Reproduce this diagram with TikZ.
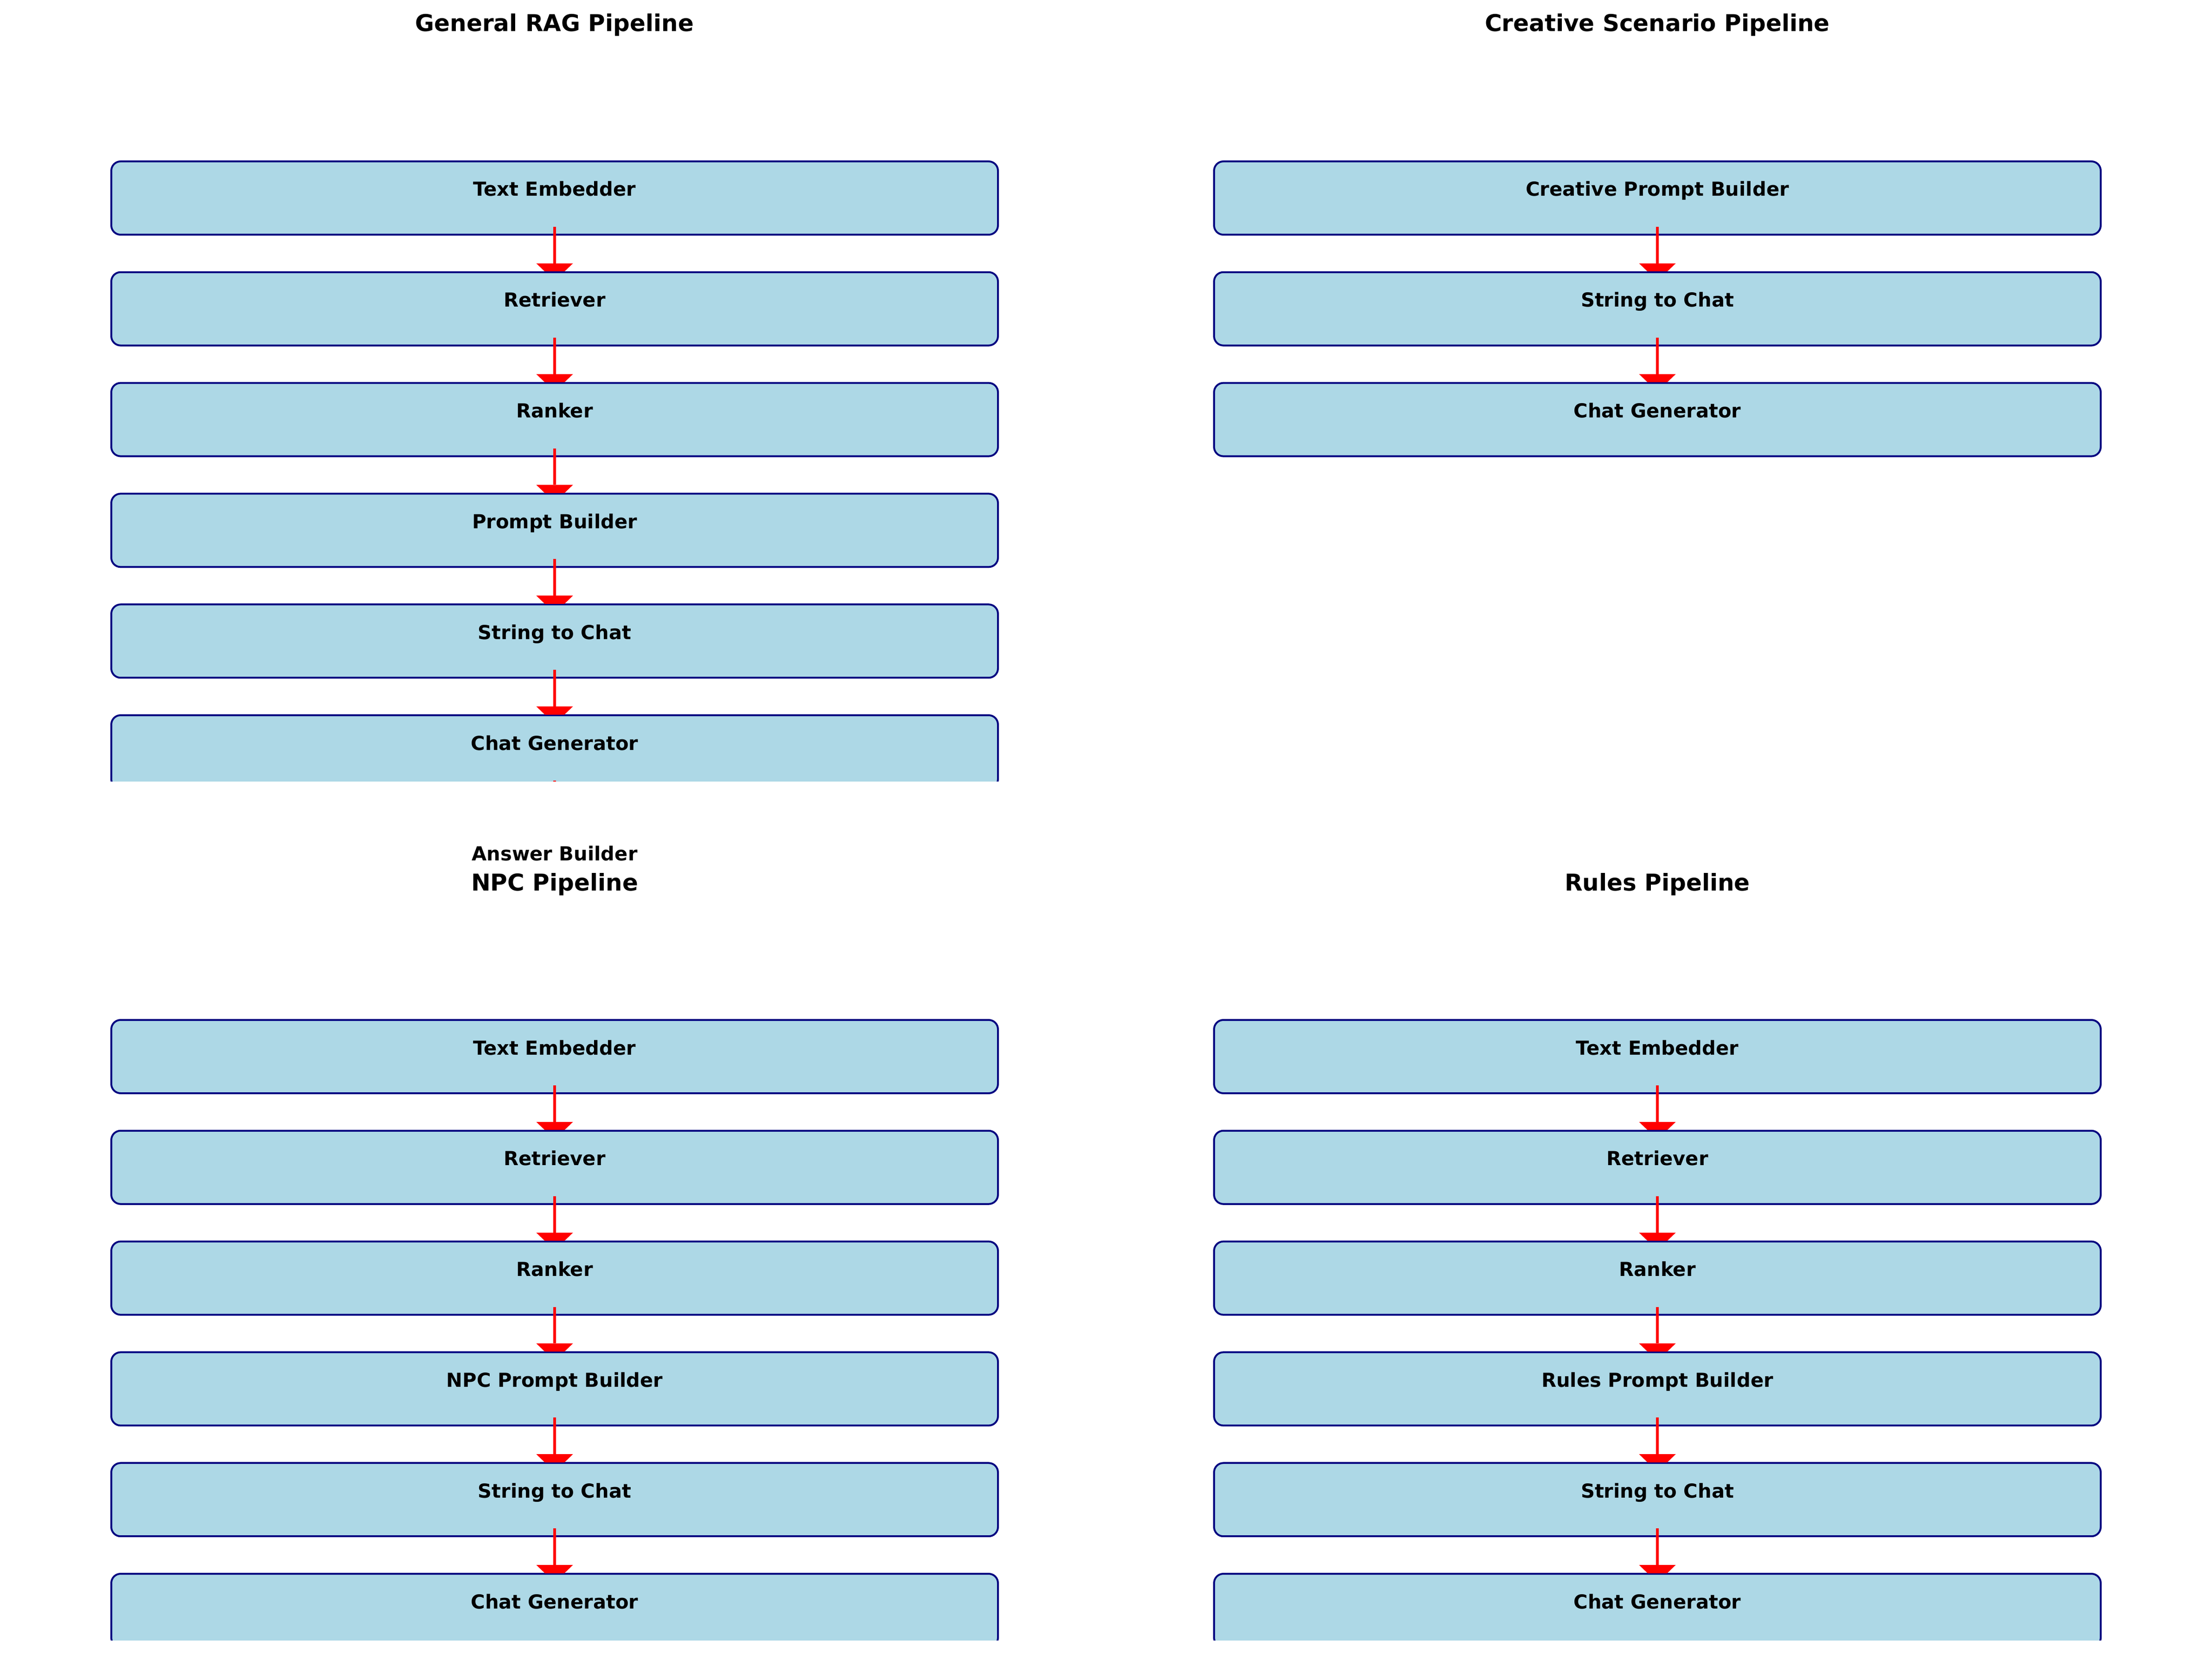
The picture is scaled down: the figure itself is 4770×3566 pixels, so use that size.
\documentclass[tikz,border=0pt]{standalone}
\usepackage{fontspec}
\setmainfont{DejaVu Sans}
\usetikzlibrary{arrows.meta}
\definecolor{boxfill}{HTML}{ADD8E6}
\definecolor{boxline}{HTML}{000080}
\definecolor{arrowred}{HTML}{FF0000}
\newcommand\flowarrow[2]{%
  \begin{scope}
    \clip ([xshift=-20pt,yshift=8pt]#1.south) rectangle ([xshift=20pt,yshift=0.48pt]#2.north);
    \draw[flow] ([yshift=4.08pt]#1.south) -- ([yshift=-4.56pt]#2.north);
  \end{scope}}
\begin{document}
\begin{tikzpicture}[x=0.24pt,y=-0.24pt,
  box/.style={draw=boxline, fill=boxfill, line width=0.96pt, rounded corners=4.8pt,
    minimum width=458.88pt, minimum height=37.92pt, inner sep=0pt, outer sep=0pt},
  lbl/.style={anchor=base, inner sep=0pt, font=\fontsize{10}{12}\selectfont\bfseries},
  ttl/.style={anchor=base, inner sep=0pt, font=\fontsize{12}{14}\selectfont\bfseries},
  flow/.style={draw=arrowred, line width=1.44pt,
    -{Triangle[width=18.96pt,length=9.12pt,line width=0pt]}}]
\useasboundingbox (0,0) rectangle (4770,3566);
\fill[white] (0,0) rectangle (4770,3566);

% ---------- top row ----------
\begin{scope}
  \clip (0,0) rectangle (4770,1684);
  % General RAG Pipeline
  \node[box] (g1) at (1196,427) {};
  \node[box] (g2) at (1196,665.8) {};
  \node[box] (g3) at (1196,904.6) {};
  \node[box] (g4) at (1196,1143.4) {};
  \node[box] (g5) at (1196,1382.2) {};
  \node[box] (g6) at (1196,1621) {};
  \node[box] (g7) at (1196,1859.8) {};
  \flowarrow{g1}{g2}
  \flowarrow{g2}{g3}
  \flowarrow{g3}{g4}
  \flowarrow{g4}{g5}
  \flowarrow{g5}{g6}
  \flowarrow{g6}{g7}
  % Creative Scenario Pipeline
  \node[box] (c1) at (3574,427) {};
  \node[box] (c2) at (3574,665.8) {};
  \node[box] (c3) at (3574,904.6) {};
  \flowarrow{c1}{c2}
  \flowarrow{c2}{c3}
\end{scope}

\node[ttl] (tg) at (1196,68) {General RAG Pipeline};
\node[ttl] (tc) at (3574,68) {Creative Scenario Pipeline};
\node[lbl] at ([yshift=-18pt]g1.north) {Text Embedder};
\node[lbl] at ([yshift=-18pt]g2.north) {Retriever};
\node[lbl] at ([yshift=-18pt]g3.north) {Ranker};
\node[lbl] at ([yshift=-18pt]g4.north) {Prompt Builder};
\node[lbl] at ([yshift=-18pt]g5.north) {String to Chat};
\node[lbl] at ([yshift=-18pt]g6.north) {Chat Generator};
\node[lbl] at ([yshift=-18pt]g7.north) {Answer Builder};
\node[lbl] at ([yshift=-18pt]c1.north) {Creative Prompt Builder};
\node[lbl] at ([yshift=-18pt]c2.north) {String to Chat};
\node[lbl] at ([yshift=-18pt]c3.north) {Chat Generator};

% ---------- bottom row ----------
\begin{scope}
  \clip (0,1684) rectangle (4770,3536);
  % NPC Pipeline
  \node[box] (n1) at (1196,2278) {};
  \node[box] (n2) at (1196,2516.8) {};
  \node[box] (n3) at (1196,2755.6) {};
  \node[box] (n4) at (1196,2994.4) {};
  \node[box] (n5) at (1196,3233.2) {};
  \node[box] (n6) at (1196,3472) {};
  \flowarrow{n1}{n2}
  \flowarrow{n2}{n3}
  \flowarrow{n3}{n4}
  \flowarrow{n4}{n5}
  \flowarrow{n5}{n6}
  % Rules Pipeline
  \node[box] (r1) at (3574,2278) {};
  \node[box] (r2) at (3574,2516.8) {};
  \node[box] (r3) at (3574,2755.6) {};
  \node[box] (r4) at (3574,2994.4) {};
  \node[box] (r5) at (3574,3233.2) {};
  \node[box] (r6) at (3574,3472) {};
  \flowarrow{r1}{r2}
  \flowarrow{r2}{r3}
  \flowarrow{r3}{r4}
  \flowarrow{r4}{r5}
  \flowarrow{r5}{r6}
\end{scope}

\node[ttl] (tn) at (1196,1920) {NPC Pipeline};
\node[ttl] (tr) at (3574,1920) {Rules Pipeline};
\node[lbl] at ([yshift=-18pt]n1.north) {Text Embedder};
\node[lbl] at ([yshift=-18pt]n2.north) {Retriever};
\node[lbl] at ([yshift=-18pt]n3.north) {Ranker};
\node[lbl] at ([yshift=-18pt]n4.north) {NPC Prompt Builder};
\node[lbl] at ([yshift=-18pt]n5.north) {String to Chat};
\node[lbl] at ([yshift=-18pt]n6.north) {Chat Generator};
\node[lbl] at ([yshift=-18pt]r1.north) {Text Embedder};
\node[lbl] at ([yshift=-18pt]r2.north) {Retriever};
\node[lbl] at ([yshift=-18pt]r3.north) {Ranker};
\node[lbl] at ([yshift=-18pt]r4.north) {Rules Prompt Builder};
\node[lbl] at ([yshift=-18pt]r5.north) {String to Chat};
\node[lbl] at ([yshift=-18pt]r6.north) {Chat Generator};
\end{tikzpicture}
\end{document}
